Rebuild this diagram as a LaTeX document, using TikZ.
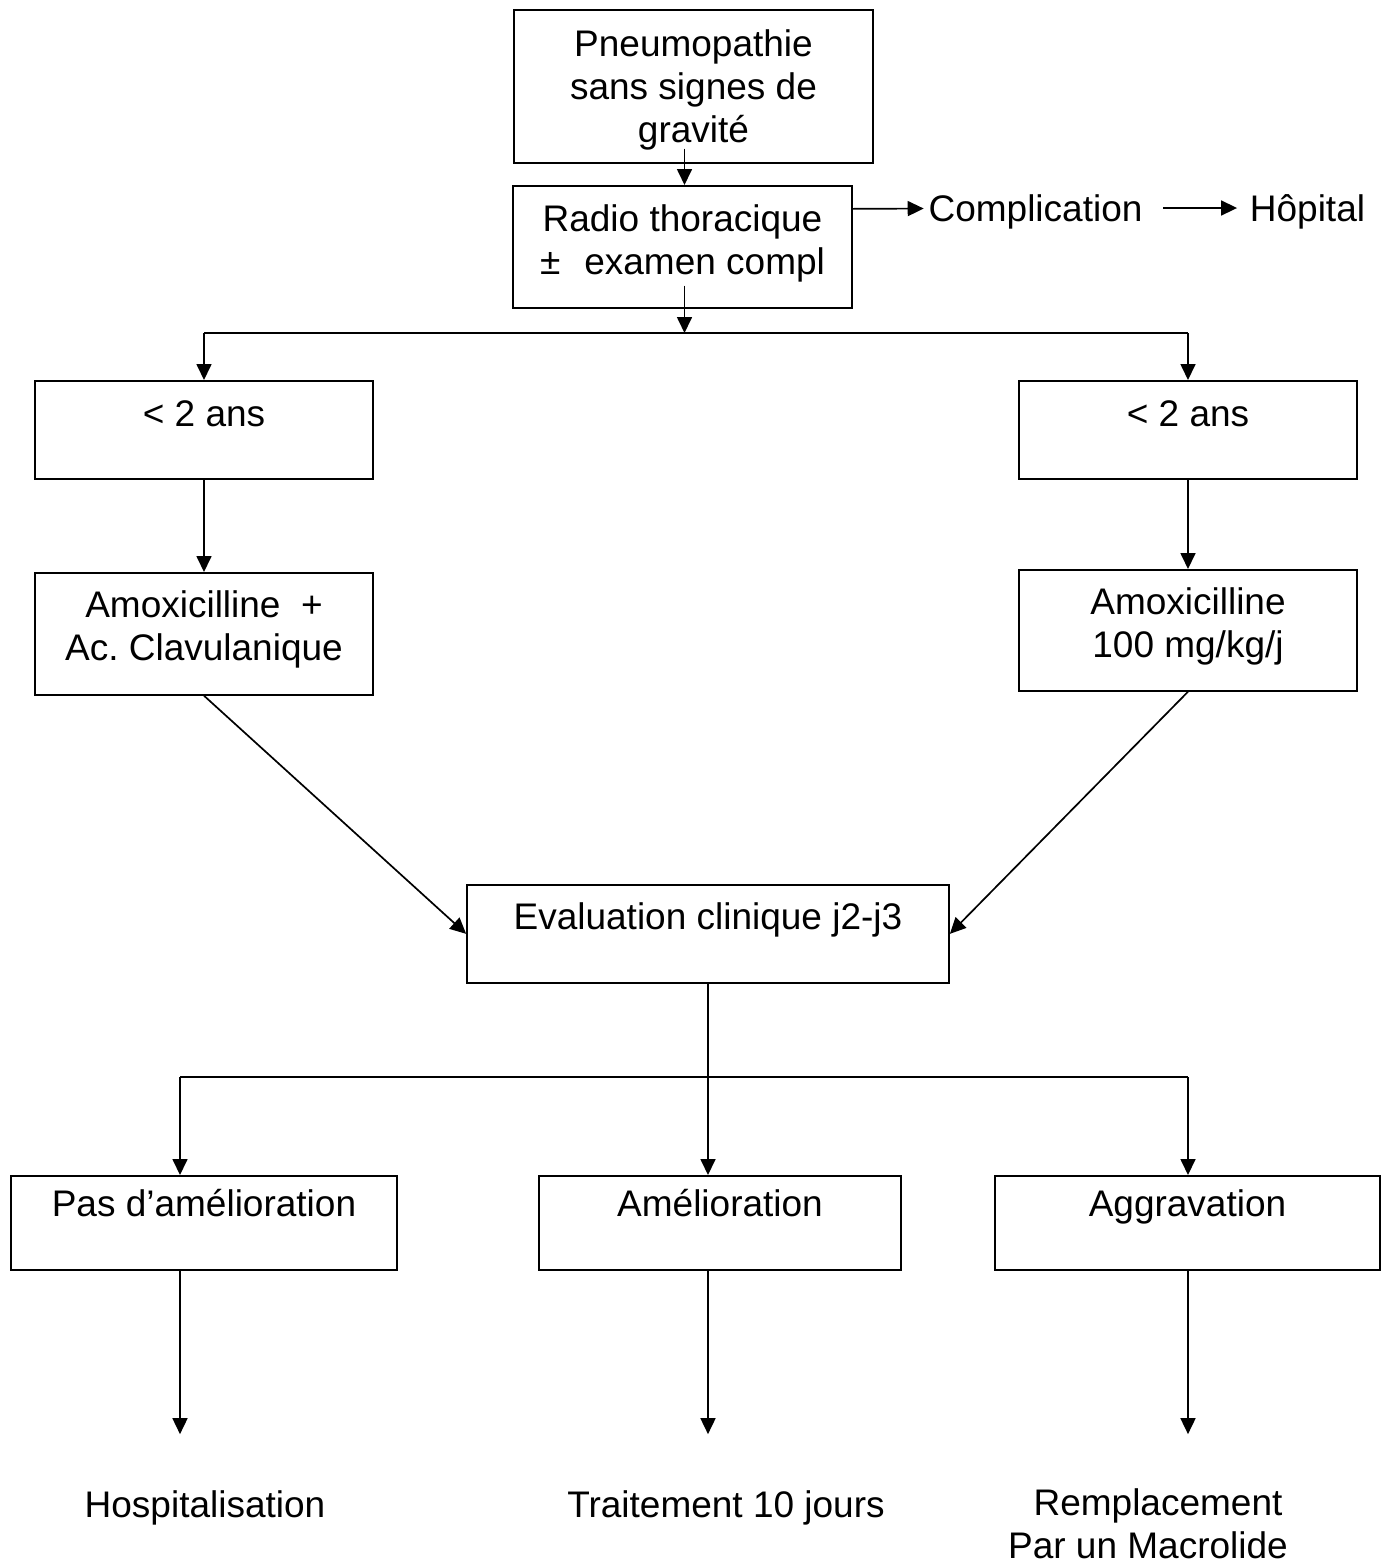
\documentclass[tikz,border=0pt]{standalone}
\usepackage{fontspec}
\setmainfont{Liberation Sans}
\usetikzlibrary{arrows.meta}
\frenchspacing
\begin{document}
\begin{tikzpicture}[x=0.5pt, y=-0.5pt, >={Triangle[length=8pt,width=7.5pt]},
    line width=0.85pt, font=\fontsize{18.5pt}{21.5pt}\selectfont,
    box/.style={draw, anchor=north, align=center, inner xsep=0pt, inner ysep=0pt},
    agebox/.style={box, minimum width=169pt, text height=23pt, text depth=26pt},
    resbox/.style={box, text height=20.5pt, text depth=26.5pt},
    lbl/.style={inner sep=2pt, text height=17pt, text depth=4pt},
    down/.style={->, shorten >=22pt}]
    \useasboundingbox (0,0) rectangle (1392,1564);
    % boxes
    \node[box, minimum width=179.5pt, minimum height=76.5pt] (pneumo) at (693.5,9) {\rule{0pt}{16.5pt}Pneumopathie\\sans signes de\\gravité};
    \node[box, minimum width=169.5pt, minimum height=61pt] (radio) at (682.5,185) {Radio thoracique\\±\hspace{12pt}examen compl\rule[-7pt]{0pt}{0pt}};
    \node[lbl] (compl) at (1035.5,208) {Complication};
    \node[lbl] (hopital) at (1307.5,208) {Hôpital};
    \coordinate (barL) at (204,333);
    \coordinate (barR) at (1188,333);
    \node[agebox] (ageL) at (204,380) {< 2 ans};
    \node[agebox] (ageR) at (1188,380) {< 2 ans};
    \node[box, minimum width=169pt, minimum height=61pt] (amoxL) at (204,572) {Amoxicilline~~+\\Ac. Clavulanique\rule[-8pt]{0pt}{0pt}};
    \node[box, minimum width=169pt, minimum height=60.5pt] (amoxR) at (1188,569) {Amoxicilline\\100 mg/kg/j\rule[-8pt]{0pt}{0pt}};
    \node[box, minimum width=241pt, text height=22.5pt, text depth=26.5pt] (eval) at (708,884) {Evaluation clinique j2-j3};
    \coordinate (splitL) at (180,1077);
    \coordinate (splitR) at (1188,1077);
    \node[resbox, minimum width=193pt] (pasamel) at (204,1175) {Pas d’amélioration};
    \node[resbox, minimum width=181pt] (amel) at (720,1175) {Amélioration};
    \node[resbox, minimum width=192.5pt] (aggrav) at (1187.5,1175) {Aggravation};
    \node[lbl] (hosp) at (205,1504) {Hospitalisation};
    \node[lbl] (trait) at (726,1504) {Traitement 10 jours};
    \node[align=center] (rempl) at (1148,1523.5) {\hspace*{10pt}Remplacement\\Par un Macrolide};
    % connectors
    \draw[->] ([xshift=-4.5pt,yshift=7.5pt]pneumo.south) -- ([xshift=-4.5pt]pneumo.south |- radio.north);
    \draw[->] ([xshift=1pt,yshift=11.5pt]radio.south) -- ([xshift=1pt]radio.south |- barL);
    \draw[->] ([yshift=19pt]radio.east) -- (compl);
    \draw[->, shorten <=8pt, shorten >=4pt] (compl) -- (hopital);
    \draw (barL) -- (barR);
    \draw[->] (barL) -- (ageL.north);
    \draw[->] (barR) -- (ageR.north);
    \draw[->] (ageL) -- (amoxL);
    \draw[->] (ageR) -- (amoxR);
    \draw[->] (amoxL.south) -- (eval.west);
    \draw[->] (amoxR.south) -- (eval.east);
    \draw (splitL) -- (splitR);
    \draw[->] (eval.south) -- (eval.south |- amel.north);
    \draw[->] (splitL) -- (splitL |- pasamel.north);
    \draw[->] (splitR) -- (splitR |- aggrav.north);
    \draw[down] (splitL |- pasamel.south) -- (splitL |- hosp.north);
    \draw[down] (eval.south |- amel.south) -- (eval.south |- hosp.north);
    \draw[down] (splitR |- aggrav.south) -- (splitR |- hosp.north);
\end{tikzpicture}
\end{document}
